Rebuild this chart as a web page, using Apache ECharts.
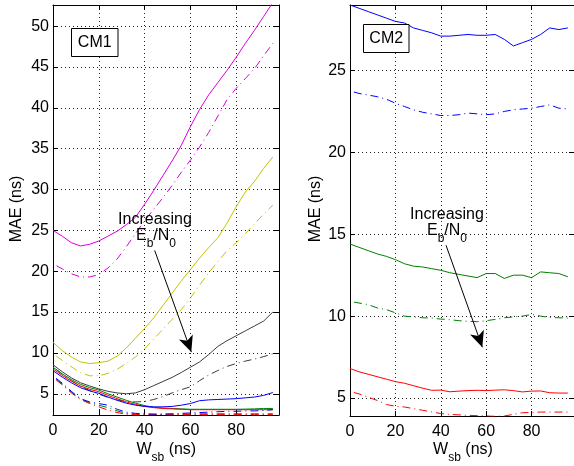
<!DOCTYPE html>
<html>
<head>
<meta charset="utf-8">
<script src="https://cdn.jsdelivr.net/npm/echarts@6/dist/echarts.min.js"></script>
<style>
html,body{margin:0;padding:0;background:#fff;}
#chart{width:574px;height:466px;}
</style>
</head>
<body>
<div id="chart"></div>
<script>
// Window width W_sb (ns) shared by every curve
const wsb = [0,4,8,12,16,20,24,28,32,36,40,44,48,52,56,60,64,68,72,76,80,84,88,92,96];

// CM1 panel: solid = first estimator, dash-dot = second estimator
const cm1MagentaSolid = [25.0,24.3,23.5,23.1,23.3,23.7,24.3,24.9,25.7,26.6,28.2,29.9,31.7,33.5,35.4,37.7,39.8,41.6,43.1,44.6,46.2,47.9,49.5,51.2,52.9];
const cm1MagentaDash  = [20.9,20.3,19.7,19.3,19.3,19.6,20.4,21.5,23.0,24.6,26.2,27.6,29.0,30.5,32.1,33.6,35.2,37.0,39.0,41.0,42.4,43.6,44.8,46.4,47.9];
const cm1YellowSolid  = [11.3,10.3,9.5,8.9,8.7,8.8,9.0,9.6,10.6,11.8,13.0,14.3,15.8,17.3,18.8,20.2,21.6,22.9,24.1,25.9,27.9,29.7,31.0,32.6,34.0];
const cm1YellowDash   = [9.9,9.1,8.3,7.6,7.2,7.2,7.5,8.0,8.7,9.5,10.5,11.7,12.9,14.1,15.3,16.7,18.3,19.8,21.2,22.5,23.5,24.6,25.8,27.0,28.1];
const cm1GraySolid    = [8.55,7.7,6.95,6.35,5.95,5.6,5.3,5.1,5.0,5.1,5.5,6.0,6.5,7.0,7.6,8.25,8.9,9.8,10.8,11.5,12.1,12.7,13.3,13.9,15.0];
const cm1GrayDash     = [8.3,7.4,6.6,5.9,5.4,4.95,4.55,4.25,4.05,4.0,4.05,4.3,4.65,5.1,5.5,5.85,6.6,7.3,7.85,8.35,8.7,9.0,9.25,9.55,9.9];
const cm1BlueSolid    = [7.82,7.05,6.35,5.75,5.35,5.05,4.6,4.2,3.85,3.6,3.45,3.4,3.4,3.45,3.6,3.8,4.15,4.25,4.3,4.35,4.4,4.5,4.6,4.8,5.15];
const cm1BlueDash     = [7.2,6.3,5.3,4.4,4.0,3.8,3.6,3.1,2.75,2.6,2.55,2.5,2.5,2.55,2.6,2.65,2.7,2.75,2.8,2.85,2.85,2.9,2.9,2.95,3.05];
const cm1GreenSolid   = [8.25,7.45,6.75,6.15,5.75,5.45,5.0,4.6,4.2,3.85,3.55,3.35,3.25,3.2,3.15,3.1,3.1,3.1,3.1,3.1,3.1,3.12,3.15,3.2,3.2];
const cm1GreenDash    = [7.1,6.2,5.2,4.35,3.9,3.6,3.3,2.9,2.6,2.5,2.48,2.5,2.5,2.5,2.5,2.52,2.55,2.55,2.55,2.55,2.55,2.55,2.55,2.55,2.55];
const cm1RedSolid     = [8.05,7.25,6.55,5.95,5.55,5.25,4.8,4.4,4.0,3.7,3.45,3.3,3.2,3.15,3.1,3.05,3.05,3.05,3.05,3.05,3.05,3.05,3.05,3.05,3.05];
const cm1RedDash      = [7.0,6.1,5.1,4.3,3.8,3.4,3.0,2.7,2.5,2.45,2.45,2.45,2.45,2.45,2.45,2.45,2.45,2.45,2.45,2.45,2.45,2.45,2.45,2.45,2.45];

// CM2 panel
const cm2BlueSolid  = [29.0,28.8,28.6,28.4,28.2,28.0,27.9,27.6,27.45,27.3,27.1,27.1,27.15,27.2,27.15,27.15,27.2,26.9,26.5,26.7,26.9,27.2,27.6,27.5,27.6];
const cm2BlueDash   = [23.75,23.6,23.5,23.4,23.25,23.0,22.8,22.6,22.45,22.35,22.25,22.25,22.3,22.4,22.35,22.3,22.35,22.5,22.6,22.65,22.7,22.8,22.9,22.7,22.65];
const cm2GreenSolid = [14.4,14.2,14.0,13.8,13.65,13.45,13.2,13.05,13.0,12.9,12.8,12.65,12.55,12.45,12.35,12.6,12.6,12.3,12.5,12.5,12.35,12.7,12.65,12.6,12.4];
const cm2GreenDash  = [10.9,10.8,10.7,10.5,10.4,10.2,10.0,9.95,9.9,9.88,9.82,9.78,9.72,9.68,9.66,9.72,9.8,9.9,9.95,10.0,10.1,10.0,9.92,9.9,9.88];
const cm2RedSolid   = [6.8,6.6,6.45,6.3,6.15,6.0,5.9,5.75,5.6,5.47,5.48,5.38,5.42,5.45,5.47,5.45,5.48,5.5,5.45,5.37,5.42,5.43,5.32,5.3,5.3];
const cm2RedDash    = [5.4,5.25,5.05,4.85,4.6,4.5,4.45,4.35,4.25,4.15,4.05,4.0,3.97,3.94,3.92,3.9,3.88,3.9,4.0,4.1,4.12,4.14,4.14,4.14,4.14];

// Tick values
const xTicks = [0,20,40,60,80];
const cm1YTicks = [5,10,15,20,25,30,35,40,45,50];
const cm2YTicks = [5,10,15,20,25];

const FONT = 'Liberation Sans, Arial, Helvetica, sans-serif';
const C = {
  magenta: '#d800d8', yellow: '#c4c400', gray: '#3c3c3c',
  blue: '#0000ff', green: '#008000', red: '#ff0000'
};
const DASHDOT = [8,4,1,4];

function curve(vals, color, dashed, idx, extra) {
  const s = {
    type: 'line', xAxisIndex: idx, yAxisIndex: idx,
    data: wsb.map((x, i) => [x, vals[i]]),
    symbol: 'none', showSymbol: false, silent: true, animation: false,
    lineStyle: { color: color, width: 1, type: dashed ? DASHDOT : 'solid', dashOffset: dashed ? 13 : 0 },
    clip: true, z: 2
  };
  return Object.assign(s, extra || {});
}

function arrow(from, to) {
  return {
    markLine: {
      silent: true, animation: false,
      symbol: ['none', 'arrow'], symbolSize: [11, 16],
      lineStyle: { color: '#000', width: 1, type: 'solid' },
      label: { show: false },
      emphasis: { disabled: true },
      data: [[{ coord: from }, { coord: to }]]
    }
  };
}

function xAxisFor(grid, pos) {
  const bottom = pos === 'bottom';
  return {
    type: 'value', gridIndex: grid, position: pos, min: 0, max: 98.7,
    axisLine: { show: true, onZero: false, lineStyle: { color: '#000', width: 1 } },
    axisTick: { show: true, inside: true, length: 5, customValues: xTicks, lineStyle: { color: '#000' } },
    axisLabel: { show: bottom, customValues: xTicks, fontSize: 16, fontFamily: FONT, color: '#000', margin: 8 },
    splitLine: { show: bottom, lineStyle: { color: '#222', width: 1, type: [1, 3] } }
  };
}
function yAxisFor(grid, pos, min, max, ticks) {
  const left = pos === 'left';
  return {
    type: 'value', gridIndex: grid, position: pos, min: min, max: max,
    axisLine: { show: true, onZero: false, lineStyle: { color: '#000', width: 1 } },
    axisTick: { show: true, inside: true, length: 5, customValues: ticks, lineStyle: { color: '#000' } },
    axisLabel: { show: left, customValues: ticks, fontSize: 16, fontFamily: FONT, color: '#000', margin: 4 },
    splitLine: { show: left, lineStyle: { color: '#222', width: 1, type: [1, 3] } }
  };
}

const subRich = {
  m: { fontSize: 16, fontFamily: FONT, lineHeight: 16, verticalAlign: 'top', color: '#000' },
  s: { fontSize: 12, fontFamily: FONT, lineHeight: 12, verticalAlign: 'top', padding: [10, 0, 0, 0], color: '#000' }
};
function plainText(txt, x, y, extra) {
  return Object.assign({
    type: 'text', x: x, y: y, z: 100, silent: true,
    style: { text: txt, fontSize: 16, fontFamily: FONT, fill: '#000', align: 'center', verticalAlign: 'middle' }
  }, extra || {});
}
function richText(txt, x, y) {
  return {
    type: 'text', x: x, y: y, z: 100, silent: true,
    style: { text: txt, rich: subRich, fontSize: 16, fontFamily: FONT, fill: '#000', align: 'center', verticalAlign: 'top' }
  };
}
function labelBox(txt, x, y, w, h) {
  return [
    { type: 'rect', z: 99, silent: true, shape: { x: x, y: y, width: w, height: h },
      style: { fill: '#fff', stroke: '#000', lineWidth: 1 } },
    plainText(txt, x + w / 2, y + h / 2 + 0.5)
  ];
}

const series = [
  curve(cm1MagentaSolid, C.magenta, false, 0),
  curve(cm1MagentaDash, C.magenta, true, 0),
  curve(cm1YellowSolid, C.yellow, false, 0),
  curve(cm1YellowDash, C.yellow, true, 0),
  curve(cm1GraySolid, C.gray, false, 0),
  curve(cm1GrayDash, C.gray, true, 0),
  curve(cm1GreenSolid, C.green, false, 0),
  curve(cm1GreenDash, C.green, true, 0),
  curve(cm1RedSolid, C.red, false, 0),
  curve(cm1RedDash, C.red, true, 0),
  curve(cm1BlueSolid, C.blue, false, 0),
  curve(cm1BlueDash, C.blue, true, 0, arrow([44.4, 22.55], [60.4, 10.1])),
  curve(cm2BlueSolid, C.blue, false, 1),
  curve(cm2BlueDash, C.blue, true, 1),
  curve(cm2GreenSolid, C.green, false, 1),
  curve(cm2GreenDash, C.green, true, 1),
  curve(cm2RedSolid, C.red, false, 1),
  curve(cm2RedDash, C.red, true, 1, arrow([42.3, 14.33], [58.3, 8.1]))
];

const chart = echarts.init(document.getElementById('chart'), null, { renderer: 'canvas' });
chart.setOption({
  animation: false,
  backgroundColor: '#fff',
  textStyle: { fontFamily: FONT },
  grid: [
    { left: 53, top: 5, width: 226, height: 410, containLabel: false },
    { left: 350, top: 5, width: 226, height: 411, containLabel: false }
  ],
  xAxis: [xAxisFor(0, 'bottom'), xAxisFor(1, 'bottom'), xAxisFor(0, 'top'), xAxisFor(1, 'top')],
  yAxis: [
    yAxisFor(0, 'left', 2.4, 52.6, cm1YTicks),
    yAxisFor(1, 'left', 3.9, 29.0, cm2YTicks),
    yAxisFor(0, 'right', 2.4, 52.6, cm1YTicks),
    yAxisFor(1, 'right', 3.9, 29.0, cm2YTicks)
  ],
  series: series,
  graphic: [].concat(
    labelBox('CM1', 71.5, 28.5, 46.5, 28),
    labelBox('CM2', 363.5, 24.5, 45.5, 28),
    [
      plainText('Increasing', 155, 219.5),
      richText('{m|E}{s|b}{m|/N}{s|0}', 156, 228),
      plainText('Increasing', 447, 215),
      richText('{m|E}{s|b}{m|/N}{s|0}', 447, 222.5),
      richText('{m|W}{s|sb}{m| (ns)}', 166.3, 442),
      richText('{m|W}{s|sb}{m| (ns)}', 463, 442),
      plainText('MAE (ns)', 17, 209, { rotation: Math.PI / 2 }),
      plainText('MAE (ns)', 315.5, 209, { rotation: Math.PI / 2 })
    ]
  )
});
</script>
</body>
</html>
